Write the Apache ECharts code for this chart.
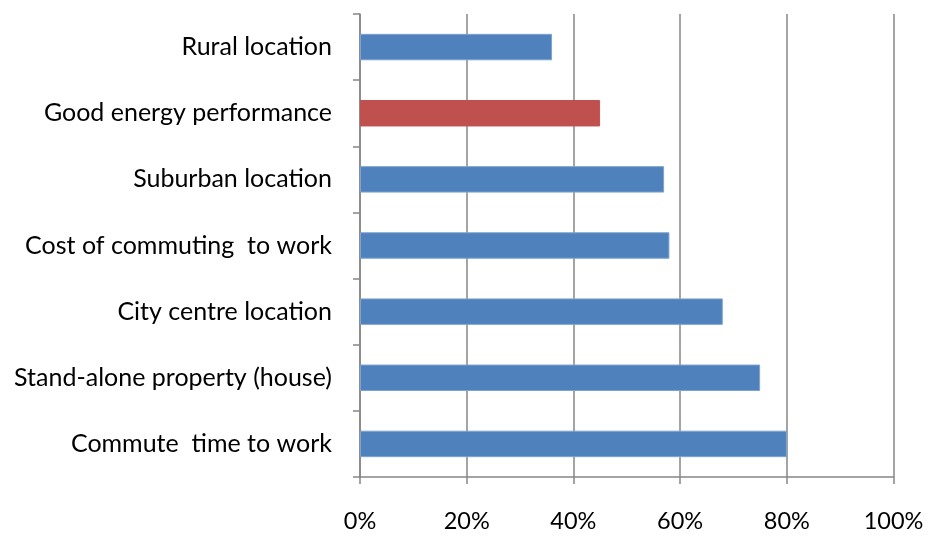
<!DOCTYPE html>
<html>
<head>
<meta charset="utf-8">
<script src="https://cdn.jsdelivr.net/npm/echarts@6/dist/echarts.min.js"></script>
<style>html,body{margin:0;padding:0;background:#fff;}#c{width:928px;height:537px;}</style>
</head>
<body>
<div id="c"></div>
<script>
const categories = ["Rural location", "Good energy performance", "Suburban location", "Cost of commuting  to work", "City centre location", "Stand-alone property (house)", "Commute  time to work"];
const values = [36, 45, 57, 58, 68, 75, 80];
const highlighted = "Good energy performance";
const xTicks = [0, 20, 40, 60, 80, 100];

const BLUE = "#4F81BD", RED = "#C0504D";
const chart = echarts.init(document.getElementById('c'), null, {renderer: 'canvas'});
const FONT = "Lato";
chart.setOption({
  animation: false,
  grid: {left: 360, right: 34.5, top: 14, bottom: 60, containLabel: false},
  xAxis: {
    type: 'value', min: xTicks[0], max: xTicks[xTicks.length - 1], interval: 20,
    axisLine: {show: true, lineStyle: {color: '#868686', width: 1.5}},
    axisTick: {show: true, length: 7, lineStyle: {color: '#868686', width: 1.5}},
    splitLine: {show: true, lineStyle: {color: '#868686', width: 1.5}},
    axisLabel: {formatter: v => v + '%', color: '#000', fontFamily: FONT, fontSize: 23.5, margin: 32}
  },
  yAxis: {
    type: 'category', data: categories, inverse: true,
    axisLine: {show: true, lineStyle: {color: '#868686', width: 1.5}},
    axisTick: {show: true, length: 7, lineStyle: {color: '#868686', width: 1.5}},
    axisLabel: {color: '#000', fontFamily: FONT, fontSize: 25, margin: 28}
  },
  series: [{
    type: 'bar',
    barWidth: '40%',
    data: values.map((v, i) => ({
      value: v,
      itemStyle: {color: categories[i] === highlighted ? RED : BLUE,
                  borderColor: categories[i] === highlighted ? RED : '#7FA3D1', borderWidth: 1}
    }))
  }]
});
</script>
</body>
</html>
